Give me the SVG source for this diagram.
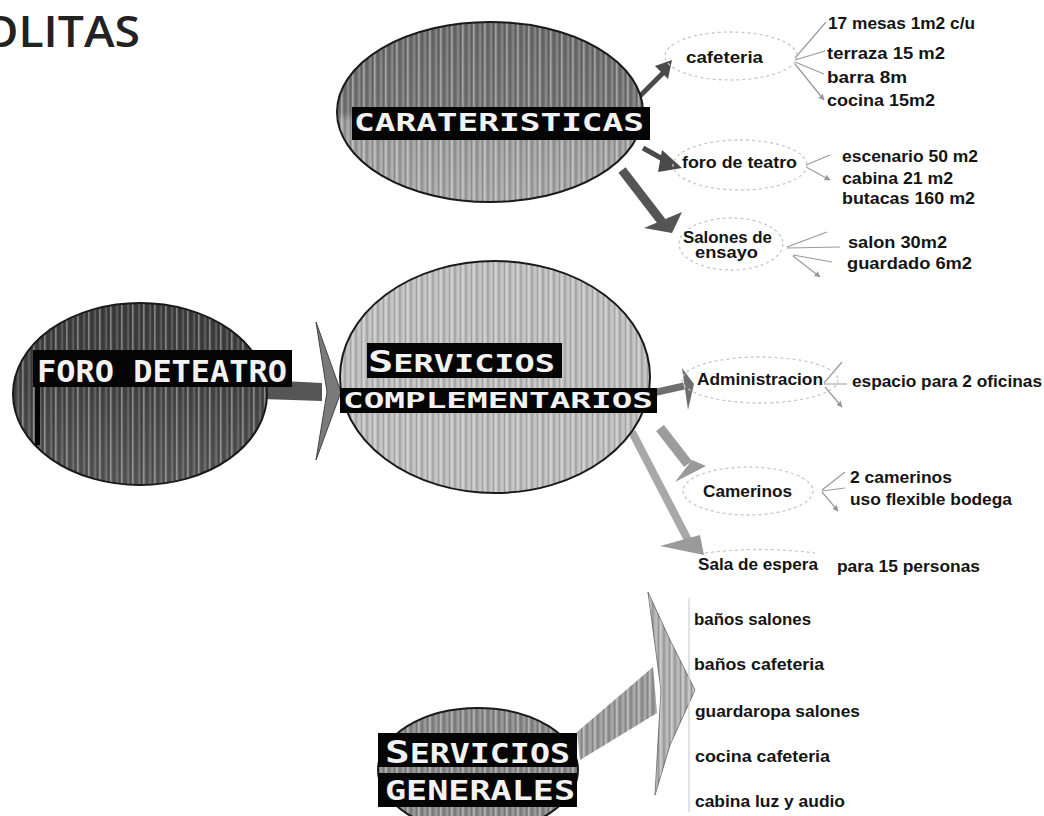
<svg xmlns="http://www.w3.org/2000/svg" width="1044" height="816" viewBox="0 0 1044 816">
<style>
.lbl{font-family:"Liberation Sans",Arial,sans-serif;font-weight:bold;font-size:16px;fill:#151515}
.hd{font-family:"DejaVu Sans Mono","Liberation Mono",monospace;font-weight:bold;fill:#f2f2f2}
.dash{fill:none;stroke:#c8c8c8;stroke-width:1.3;stroke-dasharray:3 3}
.fan{fill:none;stroke:#9a9a9a;stroke-width:1.2}
.outline{fill:none;stroke:#1a1a1a;stroke-width:2}
</style>
<defs>
<pattern id="stripes" width="11" height="12" patternUnits="userSpaceOnUse">
<rect x="0" width="1.6" height="12" fill="#fff" opacity="0.35"/>
<rect x="3.5" width="1" height="12" fill="#000" opacity="0.22"/>
<rect x="6.5" width="1.2" height="12" fill="#fff" opacity="0.22"/>
<rect x="9" width="0.8" height="12" fill="#000" opacity="0.18"/>
</pattern>
<linearGradient id="gCar" x1="0" y1="0" x2="0" y2="1">
<stop offset="0" stop-color="#6c6c6c"/><stop offset="0.5" stop-color="#777"/><stop offset="0.55" stop-color="#9c9c9c"/><stop offset="1" stop-color="#a8a8a8"/>
</linearGradient>
<linearGradient id="gForo" x1="0" y1="0" x2="0" y2="1">
<stop offset="0" stop-color="#3e3e3e"/><stop offset="0.4" stop-color="#444"/><stop offset="1" stop-color="#5a5a5a"/>
</linearGradient>
<marker id="ah" viewBox="0 0 10 10" refX="9" refY="5" markerWidth="5" markerHeight="5" orient="auto">
<path d="M0,0 L10,5 L0,10 Z" fill="#999"/>
</marker>
</defs>
<rect width="1044" height="816" fill="#fff"/>

<text x="-18" y="47" font-family="Open Sans,Liberation Sans,Arial,sans-serif" font-weight="600" font-size="44" fill="#222" textLength="158" lengthAdjust="spacingAndGlyphs">OLITAS</text>

<g id="connectors">
<path d="M640,96 L664,72" stroke="#4a4a4a" stroke-width="5" fill="none"/>
<path d="M655,66 L672,60 L668,79 Z" fill="#4a4a4a"/>
<path d="M643,148 L668,162" stroke="#4a4a4a" stroke-width="5" fill="none"/>
<path d="M662,150 L682,168 L658,172 Z" fill="#4a4a4a"/>
<path d="M622,170 L662,222" stroke="#555" stroke-width="9" fill="none"/>
<path d="M644,228 L682,212 L672,233 Z" fill="#555"/>
<path d="M262,380 L322,383 L322,401 L262,399 Z" fill="#555"/>
<path d="M316,322 L341,392 L316,460 L327,392 Z" fill="#7a7a7a" stroke="#444" stroke-width="1"/>
<path d="M648,394 L684,386" stroke="#6f6f6f" stroke-width="7" fill="none"/>
<path d="M682,368 L694,384 L688,410 Z" fill="#6f6f6f"/>
<path d="M660,428 L688,464" stroke="#9c9c9c" stroke-width="10" fill="none"/>
<path d="M675,482 L706,466 L692,460 Z" fill="#999"/>
<path d="M632,432 L688,540" stroke="#a8a8a8" stroke-width="8" fill="none"/>
<path d="M660,546 L704,555 L700,535 Z" fill="#9a9a9a"/>
<path d="M577,732 L653,667 L657,713 L580,760 Z" fill="#9a9a9a"/>
<path d="M577,732 L653,667 L657,713 L580,760 Z" fill="url(#stripes)"/>
<path d="M648,592 L670,640 L695,690 L670,745 L655,795 L661,690 Z" fill="#b0b0b0" stroke="#777" stroke-width="1"/>
<path d="M648,592 L670,640 L695,690 L670,745 L655,795 L661,690 Z" fill="url(#stripes)"/>
<line x1="689" y1="598" x2="689" y2="812" stroke="#cfcfcf" stroke-width="1.2"/>
<path class="fan" d="M795,58 L826,22 M795,60 L825,51 M795,62 L824,74 M795,64 L824,100" marker-end="url(#ah)"/>
<path class="fan" d="M806,165 L830,155 M806,167 L830,180" marker-end="url(#ah)"/>
<path class="fan" d="M787,247 L827,232 M787,248 L840,247 M793,255 L832,262 M793,256 L820,277" marker-end="url(#ah)"/>
<path class="fan" d="M824,384 L847,384 M824,383 L842,362 M825,387 L842,407" marker-end="url(#ah)"/>
<path class="fan" d="M822,490 L845,472 M822,491 L845,488 M822,492 L838,511" marker-end="url(#ah)"/>
</g>

<g id="node-caracteristicas">
<ellipse cx="490" cy="112" rx="153" ry="90" fill="url(#gCar)"/>
<ellipse cx="490" cy="112" rx="153" ry="90" fill="url(#stripes)"/>
<ellipse class="outline" cx="490" cy="112" rx="153" ry="90"/>
<rect x="352" y="107" width="298" height="33" fill="#050505"/>
<text class="hd" x="354" y="131" font-size="24" textLength="290" lengthAdjust="spacingAndGlyphs">CARATERISTICAS</text>
</g>

<g id="node-cafeteria">
<ellipse class="dash" cx="731" cy="56" rx="66" ry="24"/>
<text class="lbl" x="686" y="63" textLength="77" lengthAdjust="spacingAndGlyphs">cafeteria</text>
<text class="lbl" x="828" y="29" textLength="147" lengthAdjust="spacingAndGlyphs">17 mesas 1m2 c/u</text>
<text class="lbl" x="827" y="59" textLength="118" lengthAdjust="spacingAndGlyphs">terraza 15 m2</text>
<text class="lbl" x="827" y="83" textLength="80" lengthAdjust="spacingAndGlyphs">barra 8m</text>
<text class="lbl" x="827" y="106" textLength="108" lengthAdjust="spacingAndGlyphs">cocina 15m2</text>
</g>

<g id="node-foro-de-teatro">
<ellipse class="dash" cx="740" cy="165" rx="67" ry="25"/>
<text class="lbl" x="682" y="168" textLength="115" lengthAdjust="spacingAndGlyphs">foro de teatro</text>
<text class="lbl" x="842" y="162" textLength="136" lengthAdjust="spacingAndGlyphs">escenario 50 m2</text>
<text class="lbl" x="842" y="184" textLength="111" lengthAdjust="spacingAndGlyphs">cabina 21 m2</text>
<text class="lbl" x="842" y="204" textLength="133" lengthAdjust="spacingAndGlyphs">butacas  160 m2</text>
</g>

<g id="node-salones">
<ellipse class="dash" cx="731" cy="244" rx="52" ry="26"/>
<text class="lbl" x="683" y="243" font-size="13" textLength="89" lengthAdjust="spacingAndGlyphs">Salones de</text>
<text class="lbl" x="695" y="258" font-size="13" textLength="63" lengthAdjust="spacingAndGlyphs">ensayo</text>
<text class="lbl" x="848" y="248" textLength="99" lengthAdjust="spacingAndGlyphs">salon  30m2</text>
<text class="lbl" x="847" y="269" textLength="125" lengthAdjust="spacingAndGlyphs">guardado 6m2</text>
</g>

<g id="node-foro">
<ellipse cx="140" cy="394" rx="127" ry="91" fill="url(#gForo)"/>
<ellipse cx="140" cy="394" rx="127" ry="91" fill="url(#stripes)"/>
<ellipse class="outline" cx="140" cy="394" rx="127" ry="91"/>
<rect x="33" y="350" width="259" height="37" fill="#050505"/>
<rect x="35" y="387" width="5" height="58" fill="#050505"/>
<text class="hd" x="37" y="382" font-size="30" textLength="250" lengthAdjust="spacingAndGlyphs">FORO DETEATRO</text>
</g>

<g id="node-servicios-complementarios">
<ellipse cx="495" cy="377" rx="155" ry="116" fill="#bdbdbd"/>
<ellipse cx="495" cy="377" rx="155" ry="116" fill="url(#stripes)"/>
<ellipse class="outline" cx="495" cy="377" rx="155" ry="116"/>
<rect x="367" y="343" width="195" height="35" fill="#050505"/>
<rect x="340" y="388" width="317" height="25" fill="#050505"/>
<text class="hd" x="368" y="372" font-size="24" textLength="187" lengthAdjust="spacingAndGlyphs"><tspan font-size="30">S</tspan>ERVICIOS</text>
<text class="hd" x="343" y="408" font-size="21" textLength="310" lengthAdjust="spacingAndGlyphs">COMPLEMENTARIOS</text>
</g>

<g id="node-administracion">
<ellipse class="dash" cx="760" cy="380" rx="78" ry="23"/>
<text class="lbl" x="697" y="385" textLength="126" lengthAdjust="spacingAndGlyphs">Administracion</text>
<text class="lbl" x="852" y="387" textLength="190" lengthAdjust="spacingAndGlyphs">espacio para 2 oficinas</text>
</g>

<g id="node-camerinos">
<ellipse class="dash" cx="748" cy="491" rx="65" ry="24"/>
<text class="lbl" x="703" y="497" textLength="89" lengthAdjust="spacingAndGlyphs">Camerinos</text>
<text class="lbl" x="850" y="483" textLength="102" lengthAdjust="spacingAndGlyphs">2 camerinos</text>
<text class="lbl" x="850" y="505" textLength="162" lengthAdjust="spacingAndGlyphs">uso flexible bodega</text>
</g>

<g id="node-sala-de-espera">
<path class="dash" d="M705,553 Q760,546 815,553"/>
<text class="lbl" x="698" y="570" textLength="120" lengthAdjust="spacingAndGlyphs">Sala de espera</text>
<text class="lbl" x="837" y="572" textLength="143" lengthAdjust="spacingAndGlyphs">para 15 personas</text>
</g>

<g id="node-servicios-generales">
<ellipse cx="478" cy="770" rx="100" ry="62" fill="#8a8a8a"/>
<ellipse cx="478" cy="770" rx="100" ry="62" fill="url(#stripes)"/>
<ellipse class="outline" cx="478" cy="770" rx="100" ry="62"/>
<rect x="378" y="733" width="199" height="34" fill="#050505"/>
<rect x="378" y="773" width="199" height="34" fill="#050505"/>
<text class="hd" x="385" y="763" font-size="26" textLength="185" lengthAdjust="spacingAndGlyphs"><tspan font-size="32">S</tspan>ERVICIOS</text>
<text class="hd" x="385" y="800" font-size="26" textLength="190" lengthAdjust="spacingAndGlyphs">GENERALES</text>
</g>

<g id="node-servicios-generales-list">
<text class="lbl" x="694" y="625" textLength="117" lengthAdjust="spacingAndGlyphs">baños salones</text>
<text class="lbl" x="694" y="670" textLength="130" lengthAdjust="spacingAndGlyphs">baños cafeteria</text>
<text class="lbl" x="695" y="717" textLength="165" lengthAdjust="spacingAndGlyphs">guardaropa salones</text>
<text class="lbl" x="695" y="762" textLength="135" lengthAdjust="spacingAndGlyphs">cocina cafeteria</text>
<text class="lbl" x="695" y="807" textLength="150" lengthAdjust="spacingAndGlyphs">cabina luz y audio</text>
</g>
</svg>
